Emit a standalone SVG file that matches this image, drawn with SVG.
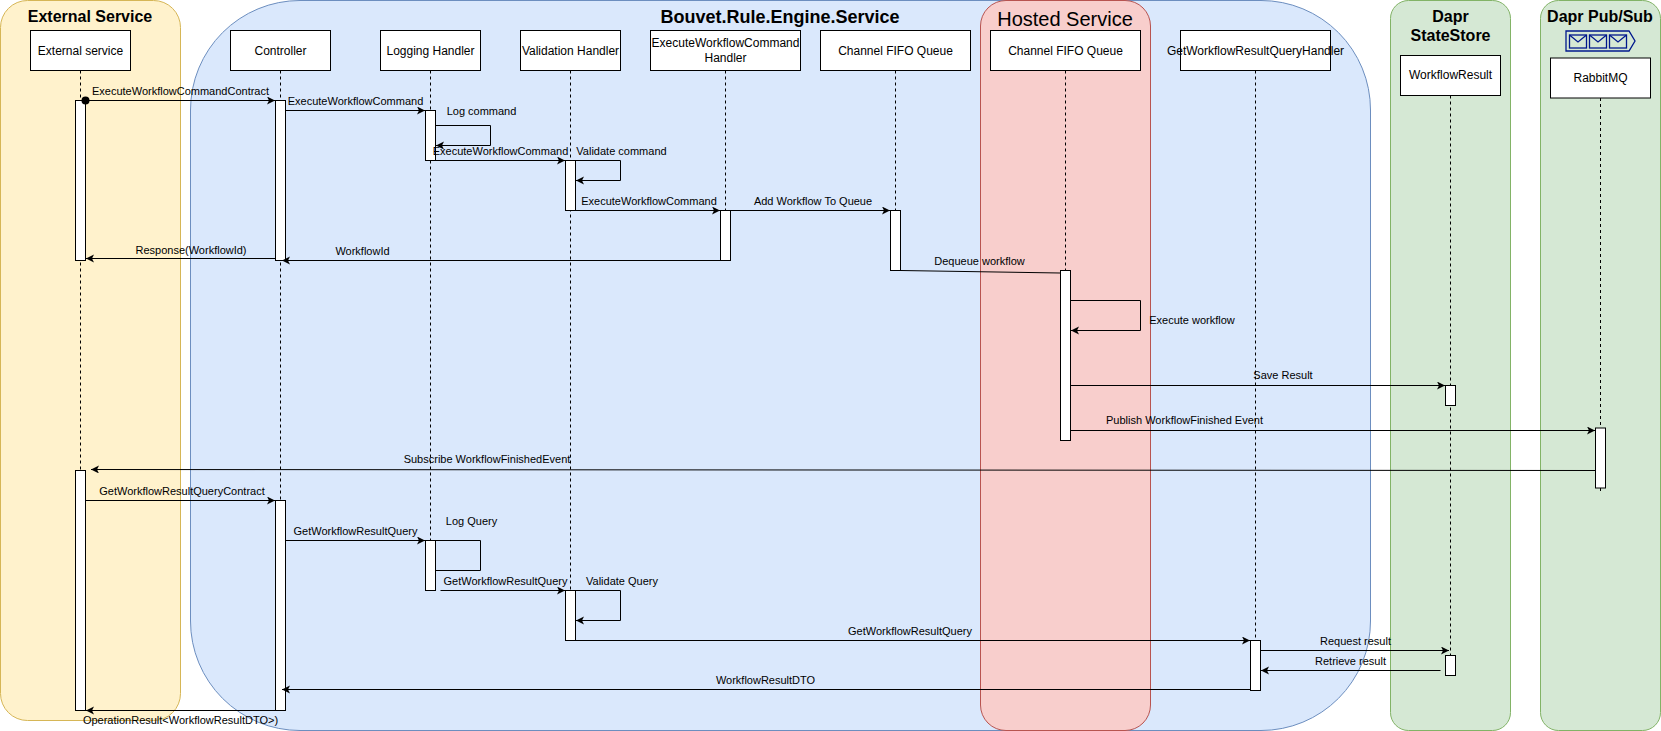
<svg xmlns="http://www.w3.org/2000/svg" width="1661" height="731" viewBox="0 0 1661 731">
<style>
text{font-family:"Liberation Sans",Arial,sans-serif;fill:#000}
.panel{stroke-width:1}
.title{font-size:16px;font-weight:bold;text-anchor:middle}
.head{fill:#fff;stroke:#000;stroke-width:1}
.bar{fill:#fff;stroke:#000;stroke-width:1}
.life{fill:none;stroke:#000;stroke-width:1;stroke-dasharray:3 3}
.n{font-size:12px;text-anchor:middle}
.m{font-size:11px;text-anchor:middle}
.c{fill:none;stroke:#000;stroke-width:1}
.a{marker-end:url(#arrow)}
.ico{fill:none;stroke:#00188d;stroke-width:1.3}
</style>
<defs>
<marker id="arrow" markerUnits="userSpaceOnUse" markerWidth="9" markerHeight="9" refX="8" refY="4" orient="auto">
<path d="M8,4 L0,8 L2,4 L0,0 z" fill="#000"/>
</marker>
</defs>
<g id="panel-external"><rect class="panel" x="0.5" y="0.5" width="180" height="720" rx="27" fill="#fff2cc" stroke="#d6b656"/><text class="title" x="90" y="21.5">External Service</text></g>
<g id="panel-service"><rect class="panel" x="190.5" y="0.5" width="1180" height="730" rx="109.5" fill="#dae8fc" stroke="#6c8ebf"/><text class="title" style="font-size:18px" x="780" y="22.5">Bouvet.Rule.Engine.Service</text></g>
<g id="panel-hosted"><rect class="panel" x="980.5" y="0.5" width="170" height="730" rx="25.5" fill="#f8cecc" stroke="#b85450"/><text x="1065" y="26" font-size="20" text-anchor="middle">Hosted Service</text></g>
<g id="panel-statestore"><rect class="panel" x="1390.5" y="0.5" width="120" height="730" rx="18" fill="#d5e8d4" stroke="#82b366"/><text class="title" x="1450.5" y="21.5">Dapr</text><text class="title" x="1450.5" y="40.5">StateStore</text></g>
<g id="panel-pubsub"><rect class="panel" x="1540.5" y="0.5" width="120" height="730" rx="18" fill="#d5e8d4" stroke="#82b366"/><text class="title" x="1600" y="21.5">Dapr Pub/Sub</text>
<g id="queue-icon"><path class="ico" d="M1566,31 H1629 L1635,41 L1629,51 H1566 z"/>
<rect class="ico" x="1569.5" y="35" width="17" height="13"/><path class="ico" d="M1569.5,35 L1578,42 L1586.5,35"/>
<rect class="ico" x="1589.5" y="35" width="17" height="13"/><path class="ico" d="M1589.5,35 L1598,42 L1606.5,35"/>
<rect class="ico" x="1609.5" y="35" width="17" height="13"/><path class="ico" d="M1609.5,35 L1618,42 L1626.5,35"/></g></g>

<g id="node-external">
<path class="life" d="M80.5,70.5 V710.5"/><rect class="head" x="30.5" y="30.5" width="100" height="40"/><text class="n" x="80.5" y="54.5">External service</text>
<rect class="bar" x="75.5" y="100.5" width="10" height="160"/><rect class="bar" x="75.5" y="470.5" width="10" height="240"/></g>
<g id="node-controller">
<path class="life" d="M280.5,70.5 V710.5"/><rect class="head" x="230.5" y="30.5" width="100" height="40"/><text class="n" x="280.5" y="54.5">Controller</text>
<rect class="bar" x="275.5" y="100.5" width="10" height="160"/><rect class="bar" x="275.5" y="500.5" width="10" height="210"/></g>
<g id="node-logging">
<path class="life" d="M430.5,70.5 V590.5"/><rect class="head" x="380.5" y="30.5" width="100" height="40"/><text class="n" x="430.5" y="54.5">Logging Handler</text>
<rect class="bar" x="425.5" y="110.5" width="10" height="50"/><rect class="bar" x="425.5" y="540.5" width="10" height="50"/></g>
<g id="node-validation">
<path class="life" d="M570.5,70.5 V640.5"/><rect class="head" x="520.5" y="30.5" width="100" height="40"/><text class="n" x="570.5" y="54.5">Validation Handler</text>
<rect class="bar" x="565.5" y="160.5" width="10" height="50"/><rect class="bar" x="565.5" y="590.5" width="10" height="50"/></g>
<g id="node-execute-handler">
<path class="life" d="M725.5,70.5 V260.5"/><rect class="head" x="650.5" y="30.5" width="150" height="40"/><text class="n" x="725.5" y="46.5">ExecuteWorkflowCommand</text><text class="n" x="725.5" y="61.5">Handler</text>
<rect class="bar" x="720.5" y="210.5" width="10" height="50"/></g>
<g id="node-channel">
<path class="life" d="M895.5,70.5 V270.5"/><rect class="head" x="820.5" y="30.5" width="150" height="40"/><text class="n" x="895.5" y="54.5">Channel FIFO Queue</text>
<rect class="bar" x="890.5" y="210.5" width="10" height="60"/></g>
<g id="node-hosted-channel">
<path class="life" d="M1065.5,70.5 V440.5"/><rect class="head" x="990.5" y="30.5" width="150" height="40"/><text class="n" x="1065.5" y="54.5">Channel FIFO Queue</text>
<rect class="bar" x="1060.5" y="270.5" width="10" height="170"/></g>
<g id="node-query-handler">
<path class="life" d="M1255.5,70.5 V640.5"/><rect class="head" x="1180.5" y="30.5" width="150" height="40"/><text class="n" x="1255.5" y="54.5">GetWorkflowResultQueryHandler</text>
<rect class="bar" x="1250.5" y="640.5" width="10" height="50"/></g>
<g id="node-workflow-result">
<path class="life" d="M1450.5,95.5 V655.5"/><rect class="head" x="1400.5" y="55.5" width="100" height="40"/><text class="n" x="1450.5" y="79">WorkflowResult</text>
<rect class="bar" x="1445.5" y="385.5" width="10" height="20"/><rect class="bar" x="1445.5" y="655.5" width="10" height="20"/></g>
<g id="node-rabbitmq">
<path class="life" d="M1600.5,98 V491"/><rect class="head" x="1550.5" y="58" width="100" height="40"/><text class="n" x="1600.5" y="81.5">RabbitMQ</text>
<rect class="bar" x="1595.5" y="428" width="10" height="60"/></g>

<g id="connectors">
<path class="c a" d="M85.5,100.5 H275"/><circle cx="85.5" cy="100.5" r="4" fill="#000"/><text class="m" x="180.5" y="94.5">ExecuteWorkflowCommandContract</text>
<path class="c a" d="M285.5,110.5 H425"/><text class="m" x="355.5" y="104.5">ExecuteWorkflowCommand</text>
<path class="c a" d="M435.5,125.5 H490.5 V145.5 H436"/><text class="m" x="481.5" y="114.5">Log command</text>
<path class="c a" d="M435.5,160.5 H565"/><text class="m" x="500.5" y="154.5">ExecuteWorkflowCommand</text>
<path class="c a" d="M575.5,160.5 H620.5 V180.5 H576"/><text class="m" x="621.5" y="154.5">Validate command</text>
<path class="c a" d="M575.5,210.5 H720"/><text class="m" x="649" y="204.5">ExecuteWorkflowCommand</text>
<path class="c a" d="M730.5,210.5 H890"/><text class="m" x="813" y="204.5">Add Workflow To Queue</text>
<path class="c a" d="M275.5,258.5 H86"/><text class="m" x="191" y="253.5">Response(WorkflowId)</text>
<path class="c a" d="M720.5,260.5 H282"/><text class="m" x="362.5" y="254.5">WorkflowId</text>
<path class="c" d="M900.5,270.5 L1060,273"/><text class="m" x="979.5" y="264.5">Dequeue workflow</text>
<path class="c a" d="M1070.5,300.5 H1140.5 V330.5 H1071"/><text class="m" x="1192" y="323.5">Execute workflow</text>
<path class="c a" d="M1070.5,385.5 H1445"/><text class="m" x="1283" y="378.5">Save Result</text>
<path class="c a" d="M1070.5,430.5 H1595"/><text class="m" x="1184.5" y="423.5">Publish WorkflowFinished Event</text>
<path class="c a" d="M1595.5,470.5 L91,469.5"/><text class="m" x="487" y="462.5">Subscribe WorkflowFinishedEvent</text>
<path class="c a" d="M85.5,500.5 H275"/><text class="m" x="182" y="494.5">GetWorkflowResultQueryContract</text>
<path class="c a" d="M285.5,540.5 H425"/><text class="m" x="355.5" y="534.5">GetWorkflowResultQuery</text>
<path class="c" d="M435.5,540.5 H480.5 V570.5 H435.5"/><text class="m" x="471.5" y="524.5">Log Query</text>
<path class="c a" d="M440.5,590.5 H565"/><text class="m" x="505.5" y="584.5">GetWorkflowResultQuery</text>
<path class="c a" d="M575.5,590.5 H620.5 V620.5 H576"/><text class="m" x="622" y="584.5">Validate Query</text>
<path class="c a" d="M575.5,640.5 H1250"/><text class="m" x="910" y="635">GetWorkflowResultQuery</text>
<path class="c a" d="M1260.5,650.5 H1449"/><text class="m" x="1355.5" y="644.5">Request result</text>
<path class="c a" d="M1440.5,670.5 H1261"/><text class="m" x="1350.5" y="664.5">Retrieve result</text>
<path class="c a" d="M1250.5,689.5 H282"/><text class="m" x="765.5" y="684">WorkflowResultDTO</text>
<path class="c a" d="M275.5,710.5 H86"/><text class="m" x="180.5" y="723.5">OperationResult&lt;WorkflowResultDTO&gt;)</text>
</g>
</svg>
